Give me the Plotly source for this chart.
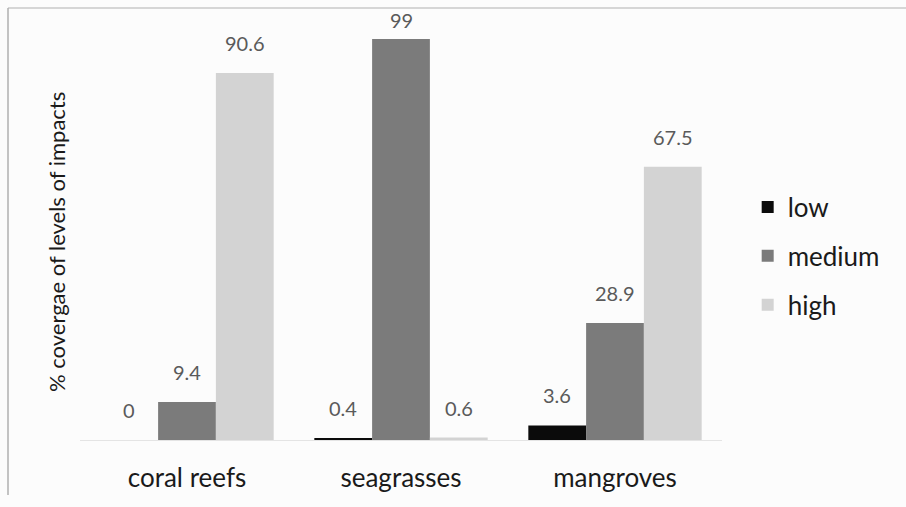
import plotly.graph_objects as go

categories = ["coral reefs", "seagrasses", "mangroves"]
low = [0, 0.4, 3.6]
medium = [9.4, 99, 28.9]
high = [90.6, 0.6, 67.5]
series_names = ["low", "medium", "high"]
colors = ["#0b0b0b", "#7b7b7b", "#d3d3d3"]
series = [low, medium, high]

BARGAP = 0.19
bar_w = (1 - BARGAP) / len(series)

fig = go.Figure()
for i, (name, vals) in enumerate(zip(series_names, series)):
    fig.add_trace(go.Bar(
        x=categories, y=vals, name=name,
        marker=dict(color=colors[i], line=dict(width=0)),
        legendgroup=name,
    ))
    for c, v in enumerate(vals):
        fig.add_annotation(
            x=c + (i - 1) * bar_w, y=v, xref="x", yref="y",
            text=f"{v:g}", showarrow=False, yanchor="bottom",
            yshift=5 if v > 95 else 16,
            font=dict(family="Lato", size=20, color="#5a5a5a"),
        )

fig.update_layout(
    width=906, height=507,
    barmode="group", bargap=BARGAP, bargroupgap=0,
    margin=dict(l=80, r=184, t=35, b=67),
    paper_bgcolor="#fcfcfc", plot_bgcolor="#fcfcfc",
    font=dict(family="Lato", color="#1a1a1a"),
    xaxis=dict(showgrid=False, zeroline=False, showline=True, linecolor="#e4e4e4",
               ticks="", tickfont=dict(size=26, color="#1a1a1a"), ticklabelstandoff=15),
    yaxis=dict(range=[0, 100], showgrid=False, zeroline=False, showline=False,
               showticklabels=False, ticks=""),
    legend=dict(x=1.04, y=0.454, xanchor="left", yanchor="middle",
                font=dict(size=26, color="#1a1a1a"), tracegroupgap=12,
                bgcolor="rgba(0,0,0,0)", itemwidth=30),
    showlegend=True,
)
fig.add_annotation(text="% covergae of levels of impacts", textangle=-90,
                   xref="paper", yref="paper", x=(57 - 80) / 642, y=(440 - 242) / 405,
                   xanchor="center", yanchor="middle",
                   showarrow=False, font=dict(size=22, color="#1a1a1a"))
# frame: left and top edges
fig.add_shape(type="line", xref="paper", yref="paper",
              x0=(8 - 80) / 642, x1=(8 - 80) / 642,
              y0=-(495 - 440) / 405, y1=(440 - 8) / 405,
              line=dict(color="#8a8a8a", width=1))
fig.add_shape(type="line", xref="paper", yref="paper",
              x0=(8 - 80) / 642, x1=(940 - 80) / 642,
              y0=(440 - 8) / 405, y1=(440 - 8) / 405,
              line=dict(color="#b0b0b0", width=1))
fig.write_html("out.html", config={"displayModeBar": False},
               post_script="document.body.style.margin='0';")
